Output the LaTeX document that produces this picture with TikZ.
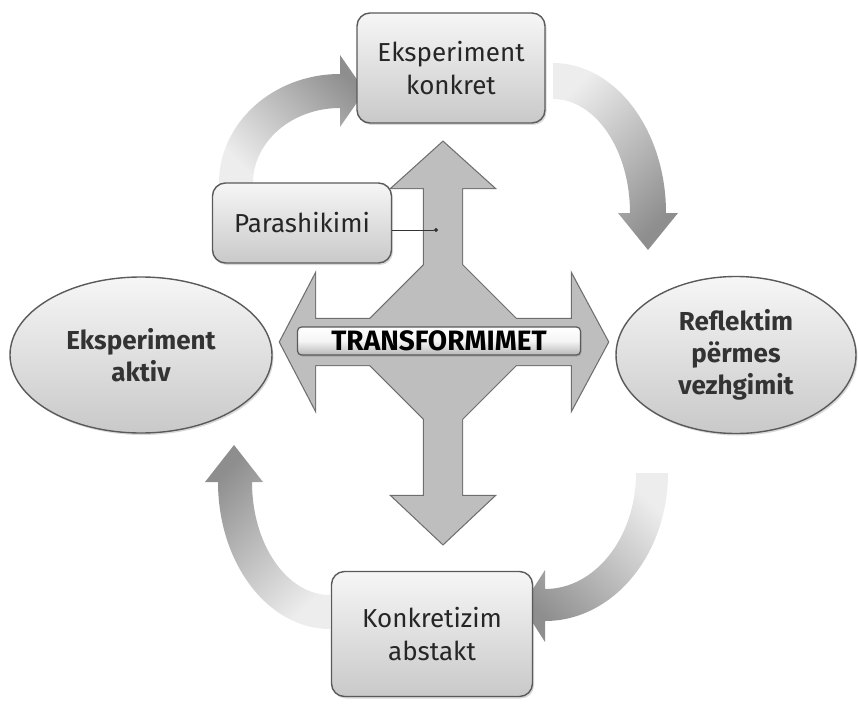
\documentclass[tikz,border=0pt]{standalone}
\usepackage{fontspec}
\setmainfont{Fira Sans}
\usetikzlibrary{shapes.geometric,shadows,arrows.meta}
\definecolor{edgegray}{HTML}{5A5A5A}
\definecolor{centergray}{HTML}{BEBEBE}
\definecolor{centeredge}{HTML}{6E6E6E}
\definecolor{boxtop}{HTML}{F6F6F6}
\definecolor{boxbot}{HTML}{C9C9C9}
\definecolor{arcdark}{HTML}{8E8E8E}
\definecolor{arclight}{HTML}{EDEDED}
\tikzset{
  boxnode/.style={draw=edgegray, line width=1.4pt, rounded corners=13pt,
    top color=boxtop, bottom color=boxbot, align=center, inner sep=0pt,
    font=\fontsize{26}{33}\selectfont, text=black!85,
    drop shadow={shadow xshift=1.5pt, shadow yshift=-2pt, opacity=0.3}},
  ellnode/.style={ellipse, draw=edgegray, line width=1.4pt,
    top color=boxtop, bottom color=boxbot, align=center, inner sep=0pt,
    font=\fontsize{26}{32}\selectfont\bfseries, text=black!80,
    drop shadow={shadow xshift=1.5pt, shadow yshift=-2pt, opacity=0.3}},
  arcband/.style={draw=none},
  centeroutline/.style={draw=centeredge, line width=2.4pt, line join=miter},
  centerfill/.style={fill=centergray, draw=none},
  tbox/.style={draw=edgegray, line width=1.2pt, rounded corners=4pt,
    top color=white, bottom color=black!28, middle color=black!4,
    minimum width=283pt, minimum height=28pt, inner sep=0pt,
    font=\fontsize{28}{30}\selectfont\bfseries, text=black,
    drop shadow={shadow xshift=1pt, shadow yshift=-1.5pt, opacity=0.4}},
  pointer/.style={draw=black!80, line width=0.6pt, -{Circle[length=4pt]}}
}
\begin{document}
\begin{tikzpicture}[x=1pt, y=-1pt]
\useasboundingbox (0,0) rectangle (858,722);

% curved gradient arrows
\shade[arcband, top color=arcdark, bottom color=arclight, shading angle=-45]
  (219,183) .. controls (219,122.8) and (273.2,74) .. (340,74)
  -- (340,55) -- (365,91) -- (340,127) -- (340,108)
  .. controls (292,108) and (253,141.6) .. (253,183) -- cycle;
\shade[arcband, top color=arclight, bottom color=arcdark, shading angle=45]
  (553,63) .. controls (615.4,63) and (666,130.2) .. (666,213)
  -- (678,213) -- (648,250) -- (618,213) -- (630,213)
  .. controls (630,150) and (595.5,99) .. (553,99) -- cycle;
\shade[arcband, top color=arclight, bottom color=arcdark, shading angle=-45]
  (668,473) .. controls (668,554.7) and (612.9,621) .. (545,621)
  -- (545,642) -- (522,606) -- (545,570) -- (545,589)
  .. controls (595.3,589) and (636,537.1) .. (636,473) -- cycle;
\shade[arcband, top color=arcdark, bottom color=arclight, shading angle=45]
  (330,629) .. controls (268.1,629) and (218,563.2) .. (218,482)
  -- (205,482) -- (234,445) -- (263,482) -- (252,482)
  .. controls (252,544.4) and (286.9,595) .. (330,595) -- cycle;

% central cross of arrows and diamond
\path[centeroutline] (443,142) -- (494,188) -- (462,188) -- (462,496) -- (494,496)
  -- (443,544) -- (392,496) -- (424,496) -- (424,188) -- (392,188) -- cycle;
\path[centeroutline] (280,342) -- (315,275) -- (315,319) -- (572,319) -- (572,275)
  -- (608,342) -- (572,409) -- (572,365) -- (315,365) -- (315,409) -- cycle;
\path[centeroutline] (443,246) -- (539,342) -- (443,438) -- (347,342) -- cycle;
\path[centerfill] (443,142) -- (494,188) -- (462,188) -- (462,496) -- (494,496)
  -- (443,544) -- (392,496) -- (424,496) -- (424,188) -- (392,188) -- cycle;
\path[centerfill] (280,342) -- (315,275) -- (315,319) -- (572,319) -- (572,275)
  -- (608,342) -- (572,409) -- (572,365) -- (315,365) -- (315,409) -- cycle;
\path[centerfill] (443,246) -- (539,342) -- (443,438) -- (347,342) -- cycle;

\node[tbox] (trans) at (439,341) {TRANSFORMIMET};

% boxes
\node[boxnode, minimum width=188pt, minimum height=110pt] (konkret) at (451,68)
  {Eksperiment\\konkret};
\node[boxnode, minimum width=179pt, minimum height=80pt] (para) at (302,223)
  {Parashikimi};
\node[boxnode, minimum width=201pt, minimum height=125pt] (abst) at (432,634)
  {Konkretizim\\abstakt};
\node[ellnode, minimum width=262pt, minimum height=156pt] (aktiv) at (141,355)
  {Eksperiment\\aktiv};
\node[ellnode, minimum width=240pt, minimum height=157pt] (refl) at (736,355)
  {Reflektim\\përmes\\vezhgimit};

\coordinate (dot) at (438,230);
\draw[pointer] (para.east |- dot) -- (dot);
\end{tikzpicture}
\end{document}
